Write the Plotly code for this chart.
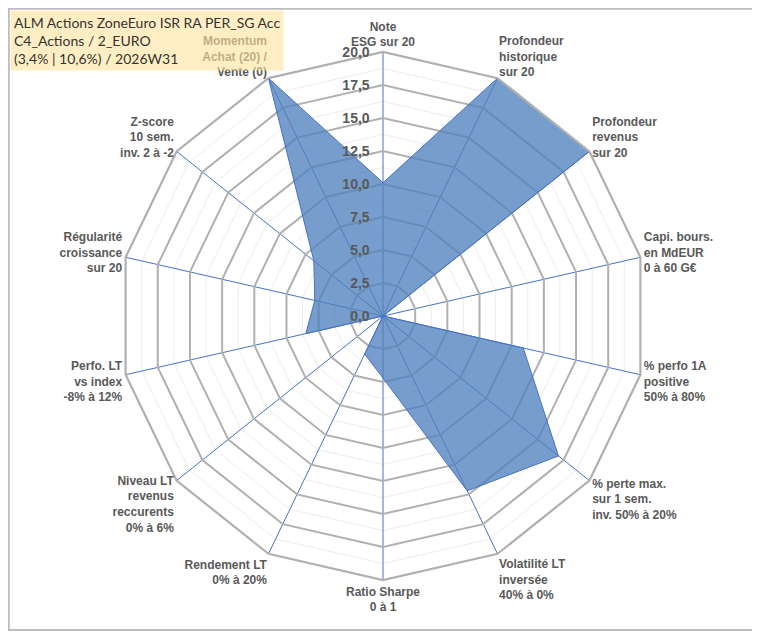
import plotly.graph_objects as go

categories = [
    "Note<br>ESG sur 20",
    "Profondeur<br>historique<br>sur 20",
    "Profondeur<br>revenus<br>sur 20",
    "Capi. bours.<br>en MdEUR<br>0 à 60 G€",
    "% perfo 1A<br>positive<br>50% à 80%",
    "% perte max.<br>sur 1 sem.<br>inv. 50% à 20%",
    "Volatilité LT<br>inversée<br>40% à 0%",
    "Ratio Sharpe<br>0 à 1",
    "Rendement LT<br>0% à 20%",
    "Niveau LT<br>revenus<br>reccurents<br>0% à 6%",
    "Perfo. LT<br>vs index<br>-8% à 12%",
    "Régularité<br>croissance<br>sur 20",
    "Z-score<br>10 sem.<br>inv. 2 à -2",
    "Momentum<br>Achat (20) /<br>Vente (0)",
]
values = [10.1, 20.0, 20.0, 0.0, 10.9, 17.0, 14.7, 4.7, 3.2, 0.0, 6.0, 5.3, 6.7, 20.0]

title_lines = [
    "ALM Actions ZoneEuro ISR RA PER_SG Acc",
    "C4_Actions / 2_EURO",
    "(3,4% | 10,6%) / 2026W31",
]

W, H = 760, 633
OFF = 8  # page body margin
cx, cy, R = 383 - OFF, 316 - OFF, 264
dom_x = [(cx - R) / W, (cx + R) / W]
dom_y = [(H - cy - R) / H, (H - cy + R) / H]

label_font = dict(family="Liberation Sans", size=12, color="#595959", weight="bold")

fig = go.Figure()

# minor grid layer (dummy invisible trace)
fig.add_trace(go.Scatterpolar(
    r=values, theta=categories, mode="lines", line=dict(width=0),
    opacity=0, hoverinfo="skip", showlegend=False, subplot="polar",
))

# data
fig.add_trace(go.Scatterpolar(
    r=values + values[:1], theta=categories + categories[:1],
    mode="lines", fill="toself",
    fillcolor="rgba(79,129,189,0.78)",
    line=dict(color="#4472C4", width=1),
    showlegend=False, subplot="polar2",
))

common_ang = dict(
    type="category", categoryarray=categories, categoryorder="array",
    rotation=90, direction="clockwise",
)

fig.update_layout(
    width=W, height=H,
    margin=dict(l=0, r=0, t=0, b=0),
    paper_bgcolor="white",
    separators=", ",
    polar=dict(
        domain=dict(x=dom_x, y=dom_y),
        gridshape="linear",
        bgcolor="white",
        radialaxis=dict(range=[0, 20], dtick=1.25, showticklabels=False,
                        showline=False, ticks="", gridcolor="#ECECEC", gridwidth=1),
        angularaxis=dict(**common_ang, showgrid=False, showline=False,
                         showticklabels=False, ticks=""),
    ),
    polar2=dict(
        domain=dict(x=dom_x, y=dom_y),
        gridshape="linear",
        bgcolor="rgba(0,0,0,0)",
        radialaxis=dict(range=[0, 20], dtick=2.5, tickformat=".1f",
                        angle=90, side="counterclockwise", tickangle=90,
                        showline=False, ticks="outside", ticklen=8,
                        tickcolor="rgba(0,0,0,0)",
                        gridcolor="#B0B0B0", gridwidth=2.2,
                        tickfont=dict(family="Liberation Sans", size=14,
                                      color="#595959", weight="bold")),
        angularaxis=dict(**common_ang, showgrid=True, gridcolor="#4472C4",
                         gridwidth=1, showline=True, linecolor="#B0B0B0",
                         linewidth=2.2, ticks="", tickfont=label_font),
    ),
)

fig.add_annotation(
    xref="paper", yref="paper", x=(10 - OFF) / W, y=1 - (10 - OFF) / H,
    xanchor="left", yanchor="top", align="left",
    text="<br>".join(title_lines), showarrow=False,
    font=dict(family="Lato", size=14, color="#333333"),
    bgcolor="rgba(255,227,158,0.61)", borderpad=3,
)

fig.add_shape(type="rect", xref="paper", yref="paper",
              x0=0.001, y0=1 - (630 - OFF) / H, x1=(757 - OFF) / W, y1=0.999,
              line=dict(color="#BDBDBD", width=2))

fig.write_html("out.html")
